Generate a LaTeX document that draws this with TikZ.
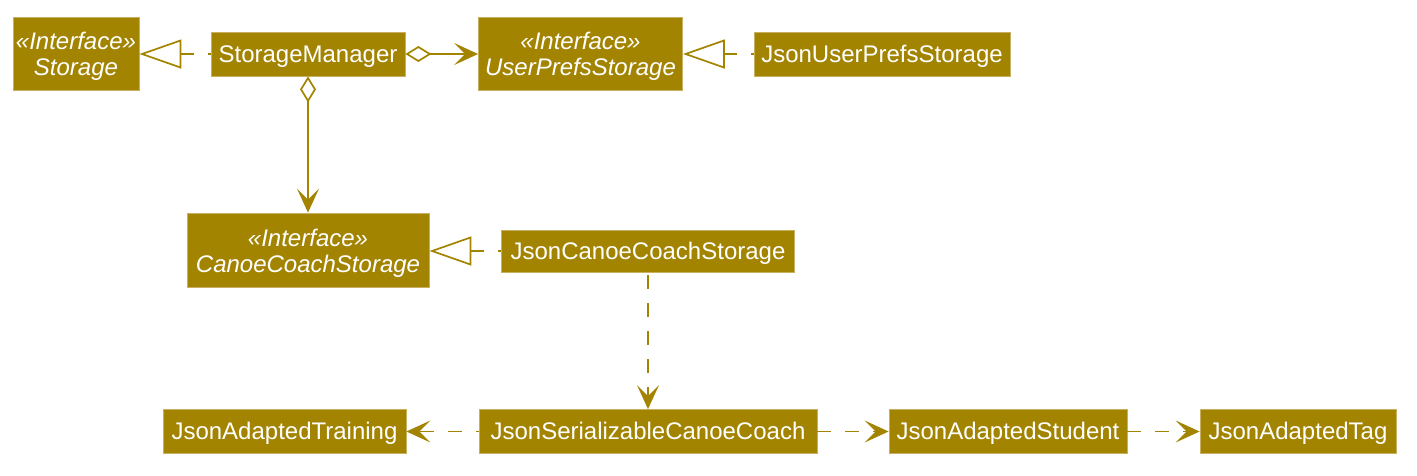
\documentclass[tikz,border=0pt]{standalone}
\usepackage{fontspec}
\setmainfont{Liberation Sans}
\usetikzlibrary{arrows.meta}
\definecolor{gold}{RGB}{163,132,0}
\definecolor{goldedge}{RGB}{200,176,96}
\newcommand{\ifacetext}[1]{\raisebox{-4pt}[\height][\depth]{\begin{tabular}{@{}c@{}}«Interface»\\#1\end{tabular}}}
\tikzset{
  ibox/.style={draw=goldedge, line width=0.8pt, fill=gold, text=white, inner sep=0pt,
    font=\fontsize{24}{26}\selectfont\itshape},
  box/.style={draw=goldedge, line width=0.8pt, fill=gold, text=white, inner sep=0pt,
    font=\fontsize{24}{26}\selectfont, text height=19pt, text depth=3pt},
  conn/.style={draw=gold, line width=1.8pt},
  realize/.style={conn, dash pattern=on 14pt off 14pt, dash phase=11pt,
    -{Triangle[length=42pt, width=29pt, fill=white, line width=1.7pt]}},
  aggr/.style={conn, {Diamond[length=26pt, width=16pt, fill=white, line width=1.7pt]}-{Stealth[length=24pt, width=22pt, inset=11pt]}},
  depend/.style={conn, dash pattern=on 14pt off 14pt,
    -{Stealth[length=24pt, width=22pt, inset=11pt]}},
}
\begin{document}
\begin{tikzpicture}[x=1pt,y=-1pt]
\useasboundingbox (0,0) rectangle (1417,475);
% top row
\node[ibox, minimum width=126pt, minimum height=73pt] (st) at (76,53.5) {\ifacetext{Storage}};
\node[box, minimum width=194pt, minimum height=44pt] (sm) at (308,54) {StorageManager};
\node[ibox, minimum width=204pt, minimum height=73pt] (ups) at (580.5,53.5) {\ifacetext{UserPrefsStorage}};
\node[box, minimum width=256pt, minimum height=44pt] (jups) at (882,54) {JsonUserPrefsStorage};
% middle row
\node[ibox, minimum width=242pt, minimum height=74pt] (ccs) at (308,250) {\ifacetext{CanoeCoachStorage}};
\node[box, minimum width=293pt, minimum height=42pt] (jccs) at (648,251) {JsonCanoeCoachStorage};
% bottom row
\node[box, minimum width=243pt, minimum height=44pt] (jat) at (284.5,431.5) {JsonAdaptedTraining};
\node[box, minimum width=338pt, minimum height=44pt] (jscc) at (648,431.5) {JsonSerializableCanoeCoach};
\node[box, minimum width=238pt, minimum height=44pt] (jas) at (1008,431.5) {JsonAdaptedStudent};
\node[box, minimum width=196pt, minimum height=44pt] (jtag) at (1298,431.5) {JsonAdaptedTag};
% connectors
\draw[realize] (sm.west) -- (sm.west -| st.east);
\draw[aggr] (sm.east) -- (sm.east -| ups.west);
\draw[realize] (jups.west) -- (jups.west -| ups.east);
\draw[aggr] (sm.south) -- (ccs.north);
\draw[realize] (jccs.west) -- (jccs.west -| ccs.east);
\draw[depend, dash phase=25pt] (jccs.south) -- (jscc.north);
\draw[depend, dash phase=11pt] (jscc.west) -- (jat.east);
\draw[depend] (jscc.east) -- (jas.west);
\draw[depend] (jas.east) -- (jtag.west);
\end{tikzpicture}
\end{document}
